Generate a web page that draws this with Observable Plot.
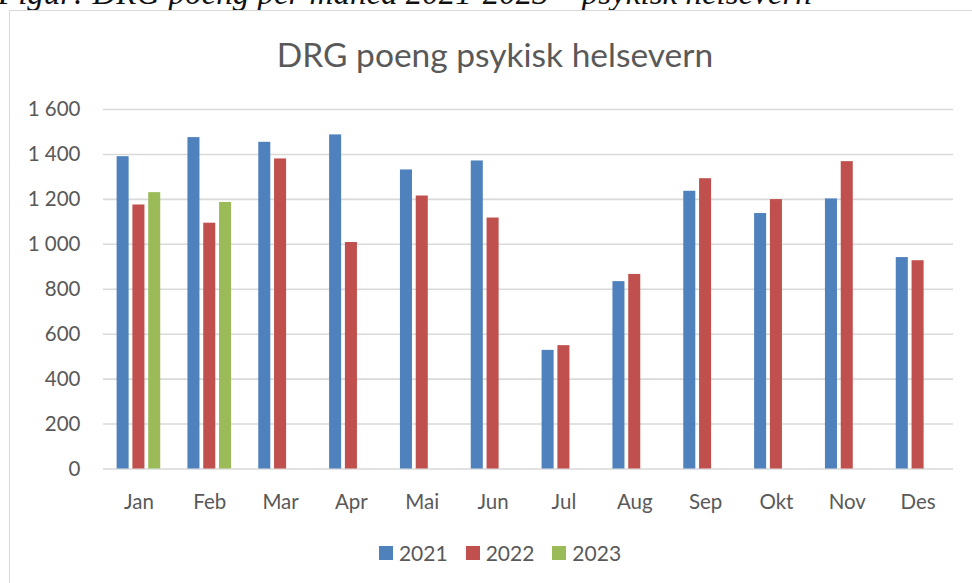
<!DOCTYPE html>
<html>
<head>
<meta charset="utf-8">
<script src="https://cdn.jsdelivr.net/npm/d3@7"></script>
<script src="https://cdn.jsdelivr.net/npm/@observablehq/plot@0.6"></script>
<style>
  html, body { margin: 0; padding: 0; background: #fff; }
  #wrap { position: relative; width: 972px; height: 583px; overflow: hidden; background: #fff; }
  #caption { position: absolute; left: -2px; top: -23px; font-family: "Liberation Serif", serif; font-style: italic; font-size: 33px; line-height: 1; color: #111; white-space: nowrap; }
  #frame { position: absolute; left: 9px; top: 10px; width: 1100px; height: 700px; border: 1px solid #d9d9d9; box-sizing: border-box; }
  #title { position: absolute; left: 145px; width: 700px; top: 34px; text-align: center; font-family: Lato, sans-serif; font-size: 33.5px; line-height: 40px; color: #595959; }
  #chart { position: absolute; left: 0; top: 0; }
  #legend { position: absolute; left: 0; width: 1000px; top: 541px; display: flex; justify-content: center; font-family: Lato, sans-serif; font-size: 21px; color: #595959; line-height: 24px; }
  .item { display: flex; align-items: center; margin: 0 9px; }
  .sw { width: 14px; height: 14px; margin-right: 6px; }
</style>
</head>
<body>
<div id="wrap">
  <div id="caption">Figur: DRG poeng per måned 2021-2023 – psykisk helsevern</div>
  <div id="frame"></div>
  <div id="title">DRG poeng psykisk helsevern</div>
  <div id="chart"></div>
  <div id="legend"></div>
</div>
<script>
const months = ["Jan", "Feb", "Mar", "Apr", "Mai", "Jun", "Jul", "Aug", "Sep", "Okt", "Nov", "Des"];
const years = ["2021", "2022", "2023"];
const v2021 = [1390, 1475, 1454, 1487, 1331, 1371, 528, 834, 1236, 1137, 1202, 941];
const v2022 = [1175, 1094, 1380, 1008, 1215, 1117, 549, 866, 1292, 1199, 1368, 927];
const v2023 = [1230, 1186];
const colors = ["#4F81BD", "#C0504D", "#9BBB59"];
const yTicks = [0, 200, 400, 600, 800, 1000, 1200, 1400, 1600];

const series = [v2021, v2022, v2023];
const rows = [];
series.forEach((vals, si) => vals.forEach((v, i) => rows.push({month: months[i], year: years[si], value: v})));

const fmt = d => d3.format(",")(d).replace(/,/g, " ");

const chart = Plot.plot({
  width: 972,
  height: 520,
  marginLeft: 103,
  marginRight: 19,
  marginTop: 109,
  marginBottom: 51.5,
  style: {fontFamily: "Lato, sans-serif", fontSize: "20.5px", color: "#595959", background: "transparent"},
  x: {domain: months, padding: 0, round: false, label: null, tickSize: 0, tickPadding: 25},
  y: {domain: [0, 1600], ticks: yTicks, tickFormat: fmt, tickSize: 0, tickPadding: 23, label: null},
  color: {domain: years, range: colors},
  marks: [
    Plot.ruleY(yTicks, {stroke: "#d9d9d9", strokeWidth: 1.6}),
    ...years.map((yr, i) => Plot.barY(rows.filter(d => d.year === yr), {
      x: "month", y: "value", fill: "year",
      dx: (i - 1) * 15.8, insetLeft: 29.4, insetRight: 29.4
    }))
  ]
});
document.getElementById("chart").appendChild(chart);

const legend = document.getElementById("legend");
years.forEach((yr, i) => {
  const it = document.createElement("div");
  it.className = "item";
  const sw = document.createElement("span");
  sw.className = "sw";
  sw.style.background = colors[i];
  const tx = document.createElement("span");
  tx.textContent = yr;
  it.appendChild(sw); it.appendChild(tx);
  legend.appendChild(it);
});
</script>
</body>
</html>
